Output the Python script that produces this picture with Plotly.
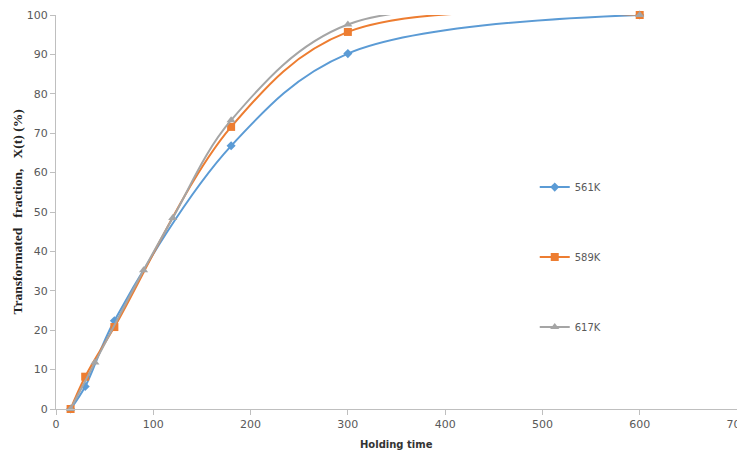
import plotly.graph_objects as go

# Data
x_561 = [15, 30, 60, 180, 300, 600]
y_561 = [0, 5.7, 22.4, 66.8, 90.2, 100]

x_589 = [15, 30, 60, 180, 300, 600]
y_589 = [0, 8.2, 20.8, 71.6, 95.7, 100]

x_617 = [15, 40, 90, 120, 180, 300, 600]
y_617 = [0, 11.8, 35.2, 48.5, 73.3, 97.6, 100]

names = ["561K", "589K", "617K"]
colors = ["#5B9BD5", "#ED7D31", "#A5A5A5"]
symbols = ["diamond", "square", "triangle-up"]
msizes = [7, 8, 8]

fig = go.Figure()
for xs, ys, nm, c, s, ms in zip([x_561, x_589, x_617], [y_561, y_589, y_617],
                                names, colors, symbols, msizes):
    fig.add_trace(go.Scatter(
        x=xs, y=ys, name=nm, mode="lines+markers",
        line=dict(color=c, width=2, shape="spline", smoothing=1.0),
        marker=dict(symbol=s, size=ms, color=c),
        legendgroup=nm, cliponaxis=False,
    ))

axis_common = dict(
    showgrid=False, zeroline=False, showline=True, linecolor="#BFBFBF",
    linewidth=1, ticks="outside", tickcolor="#BFBFBF", ticklen=5,
    tickfont=dict(family="DejaVu Sans", size=11, color="#595959"),
    automargin=False, ticklabeloverflow="allow",
)

# page body adds an 8px offset, so the figure is sized to the remaining area
fig.update_layout(
    width=737, height=446,
    margin=dict(l=48, r=8, t=7, b=45),
    plot_bgcolor="white", paper_bgcolor="white",
    xaxis=dict(range=[0, 700], dtick=100, **axis_common),
    yaxis=dict(range=[0, 100], dtick=10, **axis_common),
    legend=dict(x=0.703, y=0.6, xanchor="left", yanchor="top",
                bgcolor="rgba(0,0,0,0)", tracegroupgap=51,
                font=dict(family="DejaVu Sans", size=10, color="#595959"),
                itemwidth=30),
    showlegend=True,
    annotations=[
        dict(text="<b>Holding time</b>", xref="paper", yref="paper",
             x=0.5, y=-0.072, xanchor="center", yanchor="top", showarrow=False,
             font=dict(family="DejaVu Sans", size=10, color="#333333")),
        dict(text="<b>Transformated   fraction,   X(t) (%)</b>", xref="paper", yref="paper",
             x=-0.058, y=0.5, xanchor="center", yanchor="middle", showarrow=False,
             textangle=-90,
             font=dict(family="Liberation Serif", size=13.5, color="#222222")),
    ],
)

fig.write_html("out.html")
